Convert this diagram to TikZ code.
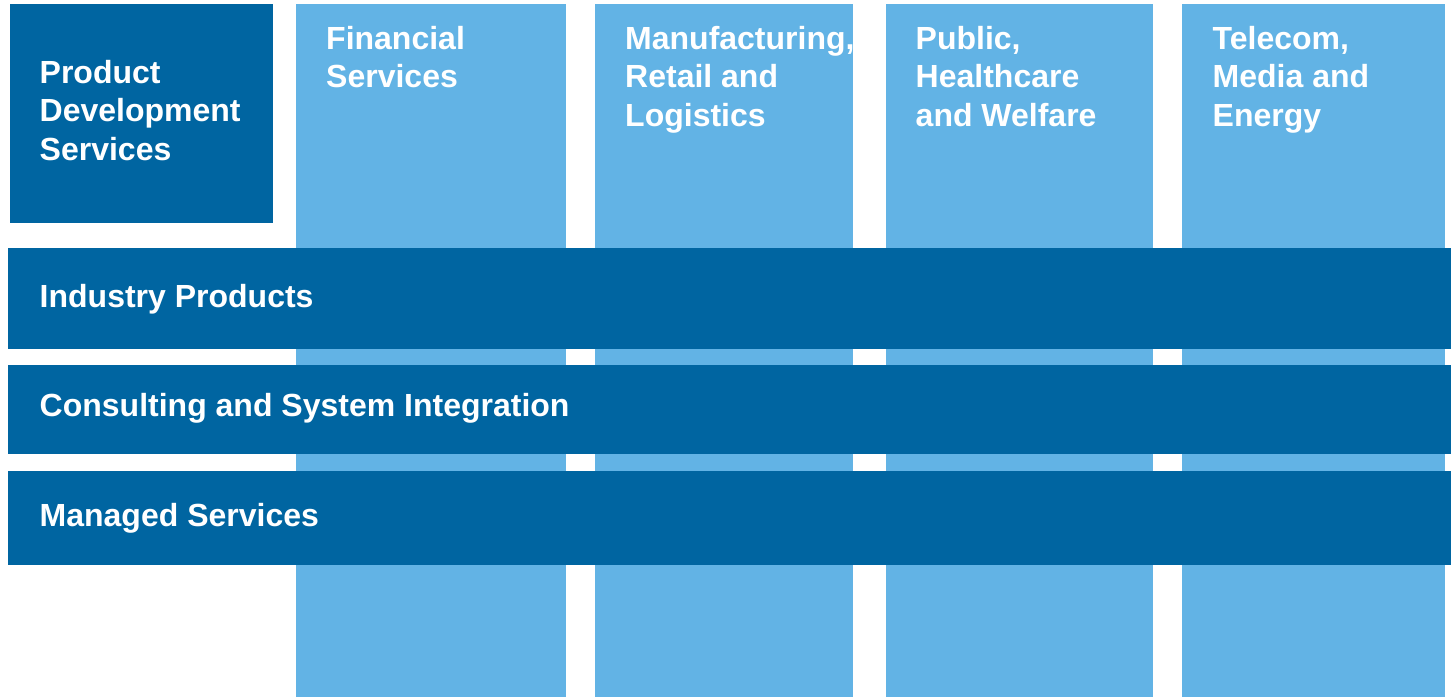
\documentclass[tikz,border=0pt]{standalone}
\usepackage{fontspec}
\setmainfont{Liberation Sans}
\definecolor{darkblue}{RGB}{0,101,161}
\definecolor{lightblue}{RGB}{98,179,229}
\begin{document}
\begin{tikzpicture}[x=1pt,y=-1pt,
  col/.style={fill=lightblue},
  bar/.style={fill=darkblue},
  lbl/.style={anchor=base west,inner sep=0pt,text=white,font=\fontsize{32}{38.5}\selectfont\bfseries,align=left}]
\useasboundingbox (0,0) rectangle (1451,697);
% columns
\fill[col] (296,4) rectangle (565.5,697);
\fill[col] (594.7,4) rectangle (853.3,697);
\fill[col] (885.7,4) rectangle (1153.3,697);
\fill[col] (1182.3,4) rectangle (1445,697);
% product box
\fill[bar] (9.5,3.5) rectangle (273,223);
% bars
\fill[bar] (8,248) rectangle (1451,348.5);
\fill[bar] (8,365) rectangle (1451,453.5);
\fill[bar] (8,471) rectangle (1451,565);
% labels (base = baseline of last line)
\node[lbl] (pds) at (39.5,160.3) {Product\\Development\\Services};
\node[lbl] (fin) at (326,87.8) {Financial\\Services};
\node[lbl] (man) at (625,126.3) {Manufacturing,\\Retail and\\Logistics};
\node[lbl] (pub) at (915.5,126.3) {Public,\\Healthcare\\and Welfare};
\node[lbl] (tel) at (1212.5,126.3) {Telecom,\\Media and\\Energy};
\node[lbl] (ind) at (39.5,307.7) {Industry Products};
\node[lbl] (csi) at (39.5,416.7) {Consulting and System Integration};
\node[lbl] (mgd) at (39.5,526.5) {Managed Services};
\end{tikzpicture}
\end{document}
